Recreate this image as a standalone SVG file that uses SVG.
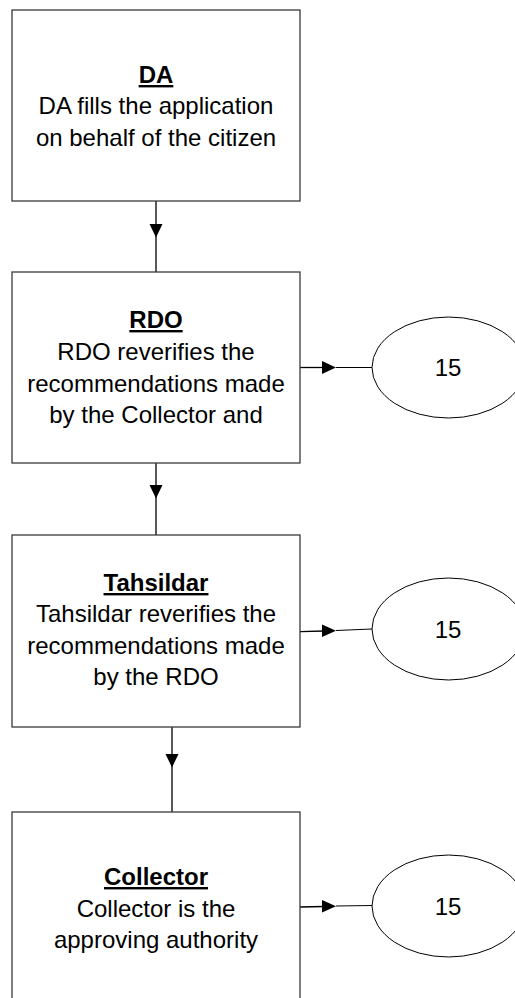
<svg xmlns="http://www.w3.org/2000/svg" width="515" height="998" viewBox="0 0 515 998">
  <style>
    .box { fill: #ffffff; stroke: #3a3a3a; stroke-width: 1.3; }
    .ell { fill: #ffffff; stroke: #000000; stroke-width: 1; }
    .t { font-family: "Liberation Sans", Arial, sans-serif; font-size: 24px; fill: #000000; text-anchor: middle; }
    .title { font-weight: bold; text-decoration: underline; }
    .line { stroke: #000000; stroke-width: 1.3; fill: none; }
    .thin { stroke: #000000; stroke-width: 1; fill: none; }
    .head { fill: #000000; }
  </style>
  <rect x="0" y="0" width="515" height="998" fill="#ffffff"/>

  <g id="connectors">
    <!-- DA to RDO -->
    <line class="line" x1="156" y1="201" x2="156" y2="272"/>
    <polygon class="head" points="149.5,224 162.5,224 156,237.5"/>
    <!-- RDO to Tahsildar -->
    <line class="line" x1="156" y1="463" x2="156" y2="535"/>
    <polygon class="head" points="149.5,485 162.5,485 156,498.5"/>
    <!-- Tahsildar to Collector -->
    <line class="line" x1="172" y1="727" x2="172" y2="812"/>
    <polygon class="head" points="165.5,754 178.5,754 172,767.5"/>
    <!-- RDO to 15 -->
    <line class="line" x1="300" y1="367.5" x2="324" y2="367.5" stroke-width="2"/>
    <polygon class="head" points="322,361 336,367.5 322,374"/>
    <line class="thin" x1="336" y1="367.5" x2="372" y2="367.5"/>
    <!-- Tahsildar to 15 -->
    <line class="line" x1="300" y1="631.7" x2="324" y2="631" stroke-width="2"/>
    <polygon class="head" points="322,624.5 336,630.7 322,637"/>
    <line class="thin" x1="336" y1="630.5" x2="372" y2="629"/>
    <!-- Collector to 15 -->
    <line class="line" x1="300" y1="907" x2="324" y2="906.5" stroke-width="2"/>
    <polygon class="head" points="322,900 336,906.3 322,912.5"/>
    <line class="thin" x1="336" y1="906" x2="372" y2="905.5"/>
  </g>

  <g id="node-da">
    <rect class="box" x="12" y="10" width="288" height="191"/>
    <text class="t title" x="156" y="83">DA</text>
    <text class="t" x="156" y="114">DA fills the application</text>
    <text class="t" x="156" y="146">on behalf of the citizen</text>
  </g>

  <g id="node-rdo">
    <rect class="box" x="12" y="272" width="288" height="191"/>
    <text class="t title" x="156" y="328">RDO</text>
    <text class="t" x="156" y="360">RDO reverifies the</text>
    <text class="t" x="156" y="392">recommendations made</text>
    <text class="t" x="156" y="423">by the Collector and</text>
  </g>

  <g id="node-rdo-15">
    <ellipse class="ell" cx="448.5" cy="367.5" rx="76.5" ry="50.5"/>
    <text class="t" x="448" y="376">15</text>
  </g>

  <g id="node-tahsildar">
    <rect class="box" x="12" y="535" width="288" height="192"/>
    <text class="t title" x="156" y="591">Tahsildar</text>
    <text class="t" x="156" y="622">Tahsildar reverifies the</text>
    <text class="t" x="156" y="654">recommendations made</text>
    <text class="t" x="156" y="685">by the RDO</text>
  </g>

  <g id="node-tahsildar-15">
    <ellipse class="ell" cx="448.5" cy="629" rx="76.5" ry="51"/>
    <text class="t" x="448" y="638">15</text>
  </g>

  <g id="node-collector">
    <rect class="box" x="12" y="812" width="288" height="195"/>
    <text class="t title" x="156" y="885">Collector</text>
    <text class="t" x="156" y="917">Collector is the</text>
    <text class="t" x="156" y="948">approving authority</text>
  </g>

  <g id="node-collector-15">
    <ellipse class="ell" cx="448.5" cy="906" rx="76.5" ry="51"/>
    <text class="t" x="448" y="915">15</text>
  </g>
</svg>
